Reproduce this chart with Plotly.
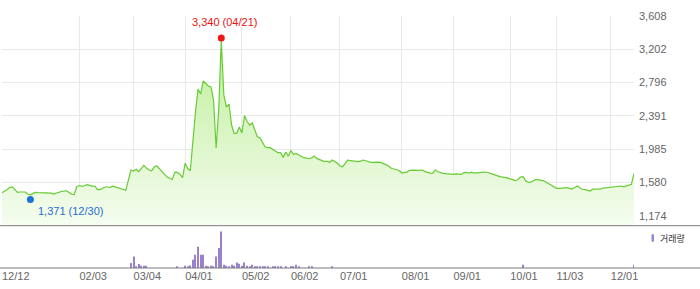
import plotly.graph_objects as go

# ---------------- data ----------------
price = [
    1455, 1471, 1493, 1517, 1526, 1493, 1459, 1463, 1463, 1463,
    1438, 1428, 1446, 1459, 1456, 1456, 1459, 1457, 1456, 1450,
    1438, 1450, 1460, 1469, 1473, 1478, 1456, 1438, 1432, 1530,
    1542, 1532, 1542, 1553, 1544, 1532, 1536, 1493, 1493, 1505,
    1524, 1524, 1520, 1534, 1524, 1514, 1508, 1496, 1485, 1609,
    1731, 1719, 1740, 1712, 1755, 1788, 1755, 1731, 1722, 1767,
    1782, 1749, 1706, 1670, 1645, 1630, 1615, 1706, 1702, 1678,
    1637, 1816, 1749, 1722, 2096, 2438, 2718, 2657, 2816, 2779,
    2755, 2743, 2584, 1999, 2462, 3315, 2645, 2499, 2535, 2279,
    2178, 2178, 2255, 2182, 2395, 2322, 2279, 2304, 2231, 2137,
    2125, 2072, 2011, 2005, 2003, 1981, 1956, 1942, 1942, 1885,
    1950, 1901, 1966, 1922, 1932, 1914, 1901, 1881, 1877, 1869,
    1877, 1901, 1873, 1862, 1846, 1834, 1840, 1822, 1853, 1832,
    1816, 1780, 1771, 1810, 1850, 1846, 1840, 1834, 1834, 1840,
    1853, 1844, 1834, 1824, 1824, 1828, 1826, 1821, 1810, 1794,
    1776, 1749, 1743, 1737, 1725, 1694, 1702, 1706, 1727, 1731,
    1729, 1727, 1731, 1731, 1712, 1700, 1694, 1690, 1734, 1710,
    1697, 1690, 1686, 1682, 1674, 1678, 1684, 1682, 1678, 1700,
    1702, 1694, 1704, 1694, 1697, 1704, 1710, 1706, 1704, 1697,
    1684, 1672, 1658, 1650, 1645, 1641, 1635, 1623, 1611, 1601,
    1615, 1645, 1651, 1600, 1581, 1584, 1601, 1617, 1611, 1606,
    1599, 1581, 1560, 1542, 1520, 1508, 1508, 1511, 1505, 1517,
    1508, 1499, 1517, 1536, 1516, 1497, 1491, 1486, 1475, 1497,
    1496, 1496, 1497, 1511, 1514, 1516, 1518, 1524, 1528, 1532,
    1536, 1527, 1537, 1548, 1557, 1690,
]

vol_days = [50, 51, 52, 53, 54, 55, 56, 68, 71, 72, 73, 74, 75, 76, 77, 78, 79, 80,
            81, 82, 83, 84, 85, 86, 87, 88, 89, 90, 91, 92, 93, 94, 95, 96, 97, 98,
            99, 100, 101, 102, 103, 105, 106, 107, 108, 110, 112, 113, 114, 115,
            119, 120, 128, 202, 245]
vol_vals = [150000, 348000, 48000, 120000, 69000, 69000, 69000, 39000, 69000, 48000,
            78000, 249000, 399000, 639000, 399000, 399000, 69000, 48000, 69000, 48000,
            345000, 600000, 1098000, 99000, 69000, 48000, 99000, 69000, 165000, 129000,
            69000, 165000, 69000, 48000, 99000, 48000, 39000, 39000, 39000, 39000,
            39000, 39000, 39000, 39000, 39000, 39000, 48000, 48000, 99000, 39000,
            39000, 39000, 39000, 99000, 99000]

tick_days = [0, 30, 51, 71, 93, 112, 131, 155, 175, 197, 215, 236]
tick_labels = ["12/12", "02/03", "03/04", "04/01", "05/02", "06/02",
               "07/01", "08/01", "09/01", "10/01", "11/03", "12/01"]
y_ticks = [1174, 1580, 1985, 2391, 2796, 3202, 3608]
y_labels = ["1,174", "1,580", "1,985", "2,391", "2,796", "3,202", "3,608"]

hi_day, hi_val, hi_text = 85, 3340, "3,340 (04/21)"
lo_day, lo_val, lo_text = 11, 1371, "1,371 (12/30)"
legend_text = "거래량"

# ---------------- figure ----------------
days = list(range(len(price)))
volume = [0] * len(price)
for d, v in zip(vol_days, vol_vals):
    volume[d] = v

FONT = "Liberation Sans, Arial, Noto Sans CJK KR, sans-serif"
GRID = "#e9e9e9"

fig = go.Figure()
fig.add_trace(go.Scatter(
    x=days, y=price, mode="lines",
    line=dict(color="#66cc33", width=1.2),
    fill="tozeroy",
    fillgradient=dict(type="vertical",
                      colorscale=[[0, "#f5fdf0"], [0.25, "#e6f8d8"],
                                  [0.6, "#d0f3b5"], [1, "#b8ec90"]],
                      start=1055, stop=3608),
    xaxis="x", yaxis="y", hoverinfo="skip"))
fig.add_trace(go.Scatter(x=[hi_day], y=[hi_val], mode="markers",
                         marker=dict(color="#f01616", size=7),
                         xaxis="x", yaxis="y", hoverinfo="skip"))
fig.add_trace(go.Scatter(x=[lo_day], y=[lo_val], mode="markers",
                         marker=dict(color="#1f6fd8", size=7),
                         xaxis="x", yaxis="y", hoverinfo="skip"))
fig.add_trace(go.Bar(x=days, y=volume, width=0.42,
                     marker=dict(color="#9b80cc", line=dict(width=0)),
                     xaxis="x2", yaxis="y2", hoverinfo="skip"))

fig.update_layout(
    width=700, height=289,
    margin=dict(l=2, r=66, t=16, b=21),
    paper_bgcolor="white", plot_bgcolor="white",
    showlegend=False, hovermode=False,
    font=dict(family=FONT, size=11, color="#666666"),
    xaxis=dict(domain=[0, 1], range=[0, 245], anchor="y",
               tickmode="array", tickvals=tick_days, showticklabels=False,
               showgrid=True, gridcolor=GRID, gridwidth=1,
               zeroline=False, showline=False, ticks=""),
    xaxis2=dict(domain=[0, 1], range=[0, 245], anchor="y2", matches="x",
                tickmode="array", tickvals=tick_days, ticktext=tick_labels,
                showgrid=False, zeroline=False, showline=False, ticks="",
                ticklabelposition="outside right",
                tickfont=dict(family=FONT, size=11, color="#666666")),
    yaxis=dict(domain=[0.1687, 1], range=[1055, 3608], side="right",
               tickmode="array", tickvals=y_ticks, ticktext=y_labels,
               showgrid=True, gridcolor=GRID, gridwidth=1,
               zeroline=False, showline=False, ticks="",
               ticklabelstandoff=4,
               tickfont=dict(family=FONT, size=11, color="#666666")),
    yaxis2=dict(domain=[0, 0.166], range=[0, 1260000], anchor="x2",
                showgrid=False, showticklabels=False, zeroline=False,
                showline=False, ticks=""),
    annotations=[
        dict(x=hi_day, y=hi_val, xref="x", yref="y", text=hi_text,
             showarrow=False, xanchor="center", yanchor="middle",
             xshift=3, yshift=16,
             font=dict(family=FONT, size=11, color="#ee1111")),
        dict(x=lo_day, y=lo_val, xref="x", yref="y", text=lo_text,
             showarrow=False, xanchor="left", yanchor="middle",
             xshift=6, yshift=-11,
             font=dict(family=FONT, size=11, color="#2a6cd0")),
        dict(x=(658 - 2) / 632, y=(268 - 238) / 252, xref="paper", yref="paper",
             text=legend_text, showarrow=False, xanchor="left", yanchor="middle",
             font=dict(family="Noto Sans CJK KR, sans-serif", size=9, color="#333333")),
    ],
    shapes=[
        dict(type="line", xref="paper", yref="paper",
             x0=-0.01, x1=1.11, y0=(268 - 225.7) / 252, y1=(268 - 225.7) / 252,
             line=dict(color="#7a7a7a", width=1), layer="above"),
        dict(type="line", xref="paper", yref="paper",
             x0=-0.01, x1=1.11, y0=0, y1=0,
             line=dict(color="#7a7a7a", width=1), layer="above"),
        dict(type="rect", xref="paper", yref="paper",
             x0=(651.5 - 2) / 632, x1=(654 - 2) / 632,
             y0=(268 - 241.7) / 252, y1=(268 - 234.3) / 252,
             line=dict(width=0), fillcolor="#9b84d0"),
    ],
)

fig.write_html("out.html")
